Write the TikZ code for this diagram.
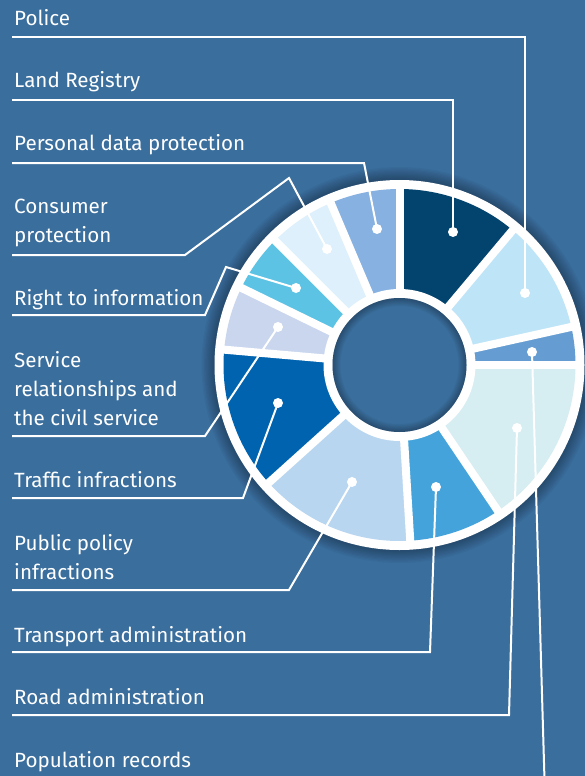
\documentclass[tikz,border=0pt]{standalone}
\usepackage{fontspec}
\setmainfont{Fira Sans}
\definecolor{bg}{RGB}{58,110,157}
\definecolor{cLand}{RGB}{3,68,111}
\definecolor{cPolice}{RGB}{190,228,248}
\definecolor{cPop}{RGB}{101,157,211}
\definecolor{cRoad}{RGB}{214,237,242}
\definecolor{cTrans}{RGB}{69,163,219}
\definecolor{cPublic}{RGB}{184,214,240}
\definecolor{cTraffic}{RGB}{0,99,175}
\definecolor{cService}{RGB}{201,214,238}
\definecolor{cRight}{RGB}{93,195,228}
\definecolor{cConsumer}{RGB}{221,240,251}
\definecolor{cPersonal}{RGB}{134,177,224}
\begin{document}
\begin{tikzpicture}[x=1pt,y=-1pt,
  lbl/.style={anchor=base west, inner sep=0pt, text=white, align=left,
    font=\fontsize{20.6}{29}\selectfont},
  conn/.style={white, line width=2pt},
  dot/.style={circle, fill=white, inner sep=0pt, minimum size=10pt}]
\fill[bg] (0,0) rectangle (585,776);
\useasboundingbox (0,0) rectangle (585,776);
% donut
\begin{scope}[shift={(399.5,365)}]
  \foreach \i in {1,...,10}
    \fill[black,opacity=0.03] (0,0) circle[radius={185pt+1.3pt*\i}];
  \fill[white] (0,0) circle[radius=185pt];
  \foreach \a/\b/\c in {90/50/cLand, 50/12.5/cPolice, 12.5/0/cPop, 0/-56/cRoad,
      -56/-86.5/cTrans, -86.5/-138/cPublic, -138/-185/cTraffic, -185/-206/cService,
      -206/-225/cRight, -225/-247/cConsumer, -247/-270/cPersonal}
    \fill[\c] (0,0) -- (\a:176pt) arc[start angle=\a, end angle=\b, radius=176pt] -- cycle;
  \foreach \t in {90,50,12.5,0,-56,-86.5,-138,-185,-206,-225,-247}
    \draw[white, line width=8pt] (0,0) -- (\t:180pt);
  \fill[white] (0,0) circle[radius=76pt];
  \fill[bg] (0,0) circle[radius=67pt];
  \begin{scope}
    \clip (0,0) circle[radius=67pt];
    \foreach \i in {1,...,8}
      \draw[black, opacity=0.035, line width={2pt*\i}] (0,0) circle[radius=67pt];
  \end{scope}
\end{scope}
% labels (anchor = baseline of the last line)
\node[lbl] (tPolice) at (14,26) {Police};
\node[lbl] (tLand) at (14,88) {Land Registry};
\node[lbl] (tPersonal) at (14,150) {Personal data protection};
\node[lbl] (tConsumer) at (14,242) {Consumer\\protection};
\node[lbl] (tRight) at (14,305) {Right to information};
\node[lbl] (tService) at (14,425) {Service\\relationships and\\the civil service};
\node[lbl] (tTraffic) at (14,487) {Traffic infractions};
\node[lbl] (tPublic) at (14,579) {Public policy\\infractions};
\node[lbl] (tTrans) at (14,642) {Transport administration};
\node[lbl] (tRoad) at (14,704) {Road administration};
\node[lbl] (tPop) at (14,767) {Population records};
% underline ends
\coordinate (uPolice) at (12,37);
\coordinate (uLand) at (12,100);
\coordinate (uPersonal) at (12,163);
\coordinate (uConsumer) at (12,255);
\coordinate (uRight) at (12,315);
\coordinate (uService) at (12,436);
\coordinate (uTraffic) at (12,498);
\coordinate (uPublic) at (12,590);
\coordinate (uTrans) at (12,652);
\coordinate (uRoad) at (12,715);
\coordinate (uPop) at (544.5,780);
% dots
\node[dot] (dLand) at (453,232) {};
\node[dot] (dPolice) at (525,293) {};
\node[dot] (dPop) at (532,352) {};
\node[dot] (dRoad) at (517,428) {};
\node[dot] (dTrans) at (436,487) {};
\node[dot] (dPublic) at (352,482) {};
\node[dot] (dTraffic) at (278,403) {};
\node[dot] (dService) at (278,327) {};
\node[dot] (dRight) at (296,288) {};
\node[dot] (dConsumer) at (327,249) {};
\node[dot] (dPersonal) at (377,229) {};
% connectors
\draw[conn] (dPolice.center) |- (uPolice);
\draw[conn] (dLand.center) |- (uLand);
\draw[conn] (dPersonal.center) -- (364,163) -- (uPersonal);
\draw[conn] (dConsumer.center) -- (289,178) -- (185,255) -- (uConsumer);
\draw[conn] (dRight.center) -- (226,267) -- (205,315) -- (uRight);
\draw[conn] (dService.center) -- (205,436) -- (uService);
\draw[conn] (dTraffic.center) -- (243,498) -- (uTraffic);
\draw[conn] (dPublic.center) -- (289,590) -- (uPublic);
\draw[conn] (dTrans.center) -- (430,652) -- (uTrans);
\draw[conn] (dRoad.center) -- (509,715) -- (uRoad);
\draw[conn] (dPop.center) -- (uPop);
\end{tikzpicture}
\end{document}
